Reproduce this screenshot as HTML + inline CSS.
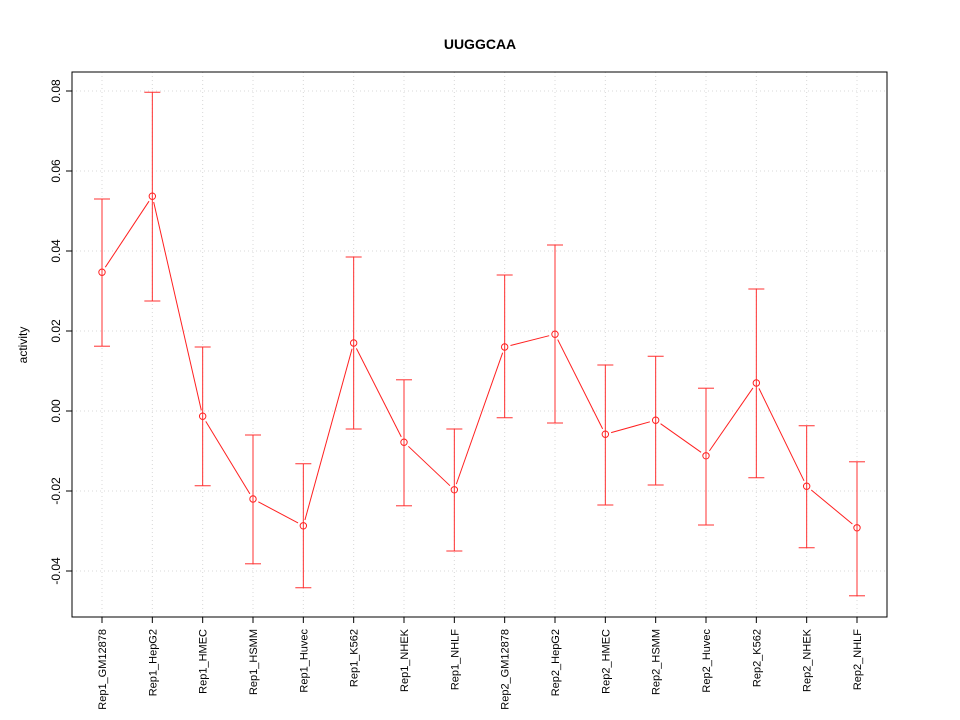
<!DOCTYPE html>
<html><head><meta charset="utf-8"><style>body{margin:0;background:#fff}svg{display:block}text{font-family:"Liberation Sans",sans-serif}</style></head>
<body>
<svg id="chart" width="960" height="720" xmlns="http://www.w3.org/2000/svg"></svg>
<script>
const categories=["Rep1_GM12878","Rep1_HepG2","Rep1_HMEC","Rep1_HSMM","Rep1_Huvec","Rep1_K562","Rep1_NHEK","Rep1_NHLF","Rep2_GM12878","Rep2_HepG2","Rep2_HMEC","Rep2_HSMM","Rep2_Huvec","Rep2_K562","Rep2_NHEK","Rep2_NHLF"];
const means=[0.0347,0.0537,-0.0013,-0.022,-0.0287,0.017,-0.0078,-0.0197,0.016,0.0192,-0.0058,-0.0023,-0.0112,0.007,-0.0188,-0.0292];
const uppers=[0.053,0.0797,0.016,-0.006,-0.0132,0.0385,0.0078,-0.0045,0.034,0.0415,0.0115,0.0137,0.0057,0.0305,-0.0037,-0.0127];
const lowers=[0.0162,0.0275,-0.0187,-0.0382,-0.0442,-0.0045,-0.0237,-0.035,-0.0017,-0.003,-0.0235,-0.0185,-0.0285,-0.0167,-0.0342,-0.0462];
const yTicks=[-0.04,-0.02,0,0.02,0.04,0.06,0.08];
const yTickLabels=["-0.04","-0.02","0.00","0.02","0.04","0.06","0.08"];
const NS="http://www.w3.org/2000/svg",svg=document.getElementById('chart');
const L=72,R=887,T=72,B=617;
const x=i=>102+i*(857-102)/(categories.length-1);
const y=v=>411-v*4000;
function mk(t,a,p){const e=document.createElementNS(NS,t);for(const k in a)e.setAttribute(k,a[k]);(p||svg).appendChild(e);return e;}
let e;
yTicks.forEach((v,i)=>{
 e=mk('line',{x1:L,x2:R,y1:y(v),y2:y(v),stroke:'#d8d8d8','stroke-dasharray':'1,3'});
 
 
 e=mk('line',{x1:L-6,x2:L,y1:y(v),y2:y(v),stroke:'#000'});
 
 
 e=mk('text',{x:0,y:0,'font-size':12,'text-anchor':'middle',transform:`translate(${L-12},${y(v)}) rotate(-90)`});
 e.textContent=yTickLabels[i];
 
 
});
categories.forEach((c,i)=>{
 e=mk('line',{x1:x(i),x2:x(i),y1:T,y2:B,stroke:'#d8d8d8','stroke-dasharray':'1,3'});
 
 
 e=mk('line',{x1:x(i),x2:x(i),y1:B,y2:B+6,stroke:'#000'});
 
 
 e=mk('text',{x:0,y:0,'font-size':11,'text-anchor':'end',transform:`translate(${x(i)+4},${B+12}) rotate(-90)`});
 e.textContent=c;
 
 
});
categories.forEach((c,i)=>{
 const g=mk('g',{stroke:'#ff3030','stroke-width':1});
 
 
 mk('line',{x1:x(i),x2:x(i),y1:y(uppers[i]),y2:y(lowers[i])},g);
 mk('line',{x1:x(i)-8,x2:x(i)+8,y1:y(uppers[i]),y2:y(uppers[i])},g);
 mk('line',{x1:x(i)-8,x2:x(i)+8,y1:y(lowers[i]),y2:y(lowers[i])},g);
});
for(let i=0;i<means.length-1;i++){
 const x1=x(i),y1=y(means[i]),x2=x(i+1),y2=y(means[i+1]);
 const d=Math.hypot(x2-x1,y2-y1),ux=(x2-x1)/d,uy=(y2-y1)/d;
 e=mk('line',{x1:x1+ux*6,y1:y1+uy*6,x2:x2-ux*6,y2:y2-uy*6,stroke:'#ff2020'});
 
 
}
means.forEach((v,i)=>{
 e=mk('circle',{cx:x(i),cy:y(v),r:3.2,fill:'none',stroke:'#ff2020'});
 
 
});
e=mk('rect',{x:L,y:T,width:R-L,height:B-T,fill:'none',stroke:'#000'});


e=mk('text',{x:480,y:49,'font-size':14,'font-weight':'bold','text-anchor':'middle'});
e.textContent='UUGGCAA';


e=mk('text',{x:0,y:0,'font-size':12,'text-anchor':'middle',transform:'translate(27,345) rotate(-90)'});
e.textContent='activity';


</script>
</body></html>
